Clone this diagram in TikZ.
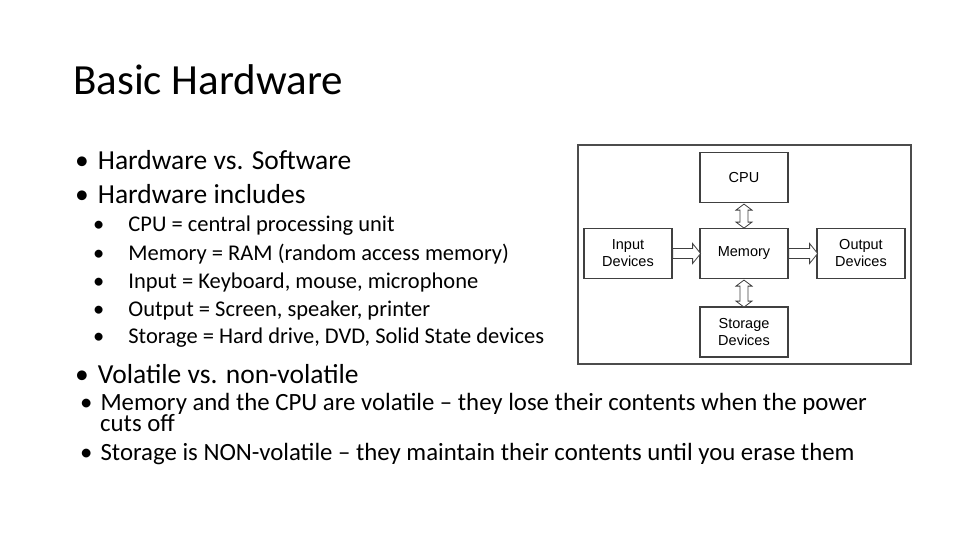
\documentclass[tikz,border=0pt]{standalone}
\usepackage{fontspec}
\setmainfont{Carlito}
\newfontfamily\arialf{Liberation Sans}
\begin{document}
\begin{tikzpicture}[x=1pt,y=-1pt,
  box/.style={draw=black!75,line width=1.2pt,fill=white,minimum width=88pt,minimum height=50pt,align=center,font=\arialf\fontsize{14.5}{17}\selectfont,inner sep=0pt},
  hol/.style={draw=black!75,line width=0.8pt,fill=white},
  t1/.style={anchor=west,font=\fontsize{27.5}{30}\selectfont,inner sep=0pt},
  t2/.style={anchor=west,font=\fontsize{22.5}{24}\selectfont,inner sep=0pt,align=left},
  t3/.style={anchor=west,font=\fontsize{24.8}{21.5}\selectfont,inner sep=0pt,align=left}]
\useasboundingbox (0,0) rectangle (960,540);
\node[anchor=west,inner sep=0pt,font=\fontsize{43}{46}\selectfont] (title) at (73,80) {Basic Hardware};
% bullets
\node[t1] (b1) at (75,160) {•\hspace{9pt}Hardware vs. Software};
\node[t1] (b2) at (75,194) {•\hspace{9pt}Hardware includes};
\node[t2] (c1) at (93,226) {•\hspace{24pt}CPU = central processing unit};
\node[t2] (c2) at (93,254) {•\hspace{24pt}Memory = RAM (random access memory)};
\node[t2] (c3) at (93,282) {•\hspace{24pt}Input = Keyboard, mouse, microphone};
\node[t2] (c4) at (93,310) {•\hspace{24pt}Output = Screen, speaker, printer};
\node[t2] (c5) at (93,338) {•\hspace{24pt}Storage = Hard drive, DVD, Solid State devices};
\node[t1] (b3) at (75,374) {•\hspace{9pt}Volatile vs. non-volatile};
\node[t3,anchor=north west] (d1) at (80,393) {•\hspace{8pt}Memory and the CPU are volatile – they lose their contents when the power\\\hspace{20pt}cuts off};
\node[t3] (d2) at (80,454) {•\hspace{8pt}Storage is NON-volatile – they maintain their contents until you erase them};
% diagram
\node[draw=black!70,line width=1.2pt,minimum width=333pt,minimum height=219pt,inner sep=0pt] (frame) at (744.5,254.5) {};
\node[box] (cpu) at (744,177.5) {CPU};
\node[box] (mem) at (744,253.5) {Memory};
\node[box] (in) at (628,253.5) {Input\\Devices};
\node[box] (out) at (861,253.5) {Output\\Devices};
\node[box] (sto) at (744,332) {Storage\\Devices};
% hollow arrows
\draw[hol] (in.east) ++(0,-5) -- ++(20,0) -- ++(0,-5) -- ++(8,10) -- ++(-8,10) -- ++(0,-5) -- ++(-20,0) -- cycle;
\draw[hol] (mem.east) ++(0,-5) -- ++(21,0) -- ++(0,-5) -- ++(8,10) -- ++(-8,10) -- ++(0,-5) -- ++(-21,0) -- cycle;
\draw[hol] (cpu.south) ++(0,1) -- ++(8,6) -- ++(-4,0) -- ++(0,12) -- ++(4,0) -- ++(-8,6) -- ++(-8,-6) -- ++(4,0) -- ++(0,-12) -- ++(-4,0) -- cycle;
\draw[hol] (mem.south) ++(0,1) -- ++(8,6) -- ++(-4,0) -- ++(0,15) -- ++(4,0) -- ++(-8,6) -- ++(-8,-6) -- ++(4,0) -- ++(0,-15) -- ++(-4,0) -- cycle;
\end{tikzpicture}
\end{document}
